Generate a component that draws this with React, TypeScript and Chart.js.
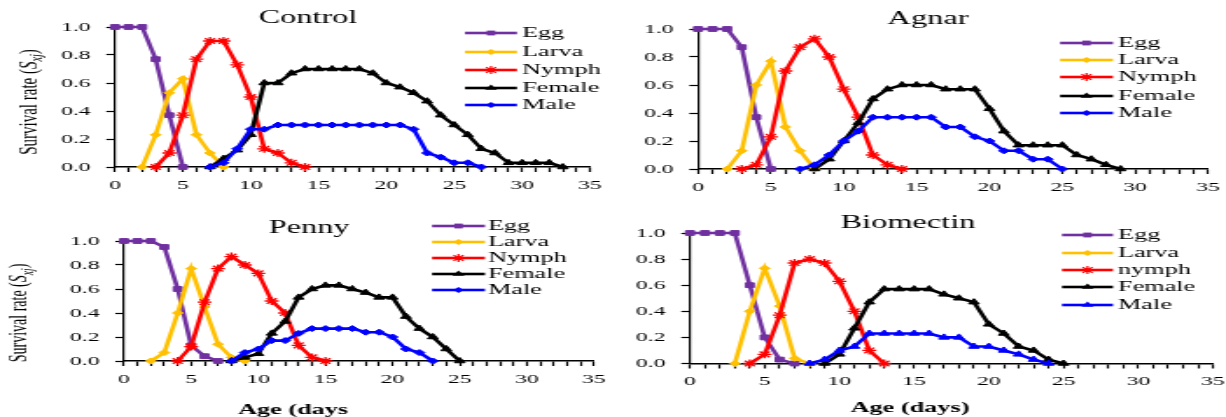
import React, { useEffect, useRef } from 'react';
import { Chart, registerables } from 'chart.js';

Chart.register(...registerables);

const FONT = "'Liberation Serif', 'Times New Roman', Times, serif";
const STRETCH = 1.75; // the original figure is stretched horizontally

// ---------- axis labels ----------
const xTickLabels = ['0', '5', '10', '15', '20', '25', '30', '35'];
const yTickLabels = ['0.0', '0.2', '0.4', '0.6', '0.8', '1.0'];
const xMin = 0;
const xMax = 35;

const seriesNames = ['Egg', 'Larva', 'Nymph', 'Female', 'Male'];
const seriesNamesBiomectin = ['Egg', 'Larva', 'nymph', 'Female', 'Male'];
const seriesColors = ['#7030A0', '#FFC000', '#FF0000', '#000000', '#0000FF'];

// ---------- Control (first day, values per day) ----------
const controlEggStart = 0;
const controlEgg = [1, 1, 1, 0.77, 0.37, 0];
const controlLarvaStart = 2;
const controlLarva = [0, 0.23, 0.53, 0.63, 0.23, 0.1, 0];
const controlNymphStart = 3;
const controlNymph = [0, 0.1, 0.37, 0.77, 0.9, 0.9, 0.73, 0.5, 0.13, 0.1, 0.03, 0];
const controlFemaleStart = 7;
const controlFemale = [0, 0.06, 0.12, 0.23, 0.6, 0.6, 0.67, 0.7, 0.7, 0.7, 0.7, 0.7, 0.67, 0.6, 0.57, 0.53, 0.47, 0.37, 0.3, 0.23, 0.13, 0.1, 0.03, 0.03, 0.03, 0.03, 0];
const controlMaleStart = 7;
const controlMale = [0, 0.03, 0.13, 0.27, 0.27, 0.3, 0.3, 0.3, 0.3, 0.3, 0.3, 0.3, 0.3, 0.3, 0.3, 0.27, 0.1, 0.07, 0.03, 0.03, 0];

// ---------- Agnar ----------
const agnarEggStart = 0;
const agnarEgg = [1, 1, 1, 0.87, 0.37, 0];
const agnarLarvaStart = 2;
const agnarLarva = [0, 0.13, 0.6, 0.77, 0.3, 0.13, 0];
const agnarNymphStart = 3;
const agnarNymph = [0, 0.03, 0.23, 0.7, 0.87, 0.93, 0.8, 0.57, 0.37, 0.1, 0.03, 0];
const agnarFemaleStart = 8;
const agnarFemale = [0, 0.07, 0.2, 0.33, 0.5, 0.57, 0.6, 0.6, 0.6, 0.57, 0.57, 0.57, 0.43, 0.27, 0.17, 0.17, 0.17, 0.17, 0.1, 0.07, 0.03, 0];
const agnarMaleStart = 7;
const agnarMale = [0, 0.03, 0.1, 0.2, 0.27, 0.37, 0.37, 0.37, 0.37, 0.37, 0.3, 0.3, 0.23, 0.2, 0.13, 0.13, 0.07, 0.07, 0];

// ---------- Penny ----------
const pennyEggStart = 0;
const pennyEgg = [1, 1, 1, 0.95, 0.6, 0.13, 0.04, 0];
const pennyLarvaStart = 2;
const pennyLarva = [0, 0.07, 0.4, 0.77, 0.45, 0.14, 0.03, 0];
const pennyNymphStart = 4;
const pennyNymph = [0, 0.12, 0.49, 0.77, 0.87, 0.8, 0.73, 0.5, 0.4, 0.13, 0.03, 0];
const pennyFemaleStart = 8;
const pennyFemale = [0, 0.03, 0.06, 0.23, 0.33, 0.53, 0.6, 0.63, 0.63, 0.6, 0.57, 0.53, 0.53, 0.37, 0.27, 0.2, 0.1, 0];
const pennyMaleStart = 8;
const pennyMale = [0, 0.07, 0.1, 0.17, 0.17, 0.23, 0.27, 0.27, 0.27, 0.27, 0.24, 0.24, 0.2, 0.1, 0.07, 0];

// ---------- Biomectin ----------
const bioEggStart = 0;
const bioEgg = [1, 1, 1, 1, 0.6, 0.2, 0.03, 0];
const bioLarvaStart = 3;
const bioLarva = [0, 0.4, 0.73, 0.44, 0.04, 0];
const bioNymphStart = 4;
const bioNymph = [0, 0.07, 0.37, 0.77, 0.8, 0.77, 0.63, 0.4, 0.1, 0];
const bioFemaleStart = 9;
const bioFemale = [0, 0.07, 0.27, 0.47, 0.57, 0.57, 0.57, 0.57, 0.53, 0.5, 0.47, 0.3, 0.23, 0.13, 0.1, 0.03, 0];
const bioMaleStart = 8;
const bioMale = [0, 0.03, 0.1, 0.13, 0.23, 0.23, 0.23, 0.23, 0.23, 0.2, 0.2, 0.13, 0.13, 0.1, 0.07, 0.03, 0];

type Series = { start: number; values: number[] };
type Panel = {
  key: string;
  left: number; top: number; cssW: number; cssH: number;
  plot: { left: number; right: number; top: number; bottom: number };
  title: string; titleX: number; titleBase: number;
  yTitle?: boolean; yTitleX?: number; yTitleY?: number; yTitleSize?: number;
  xTitle?: string; xTitleX?: number; xTitleBase?: number;
  legendX1: number; legendX2: number; legendTextX: number; legendYs: number[];
  names: string[];
  series: Series[];
  pointStyles: string[];
};

const defaultStyles = ['rect', 'rectRot', 'star', 'triangle', 'rectRot'];
const bioStyles = ['rect', 'rectRot', 'star', 'triangle', 'triangle'];
const pointRadii: Record<string, number> = { rect: 3.4, rectRot: 3, star: 4, triangle: 3.5 };

const panels: Panel[] = [
  {
    key: 'control', left: 0, top: 0, cssW: 610, cssH: 205,
    plot: { left: 115, right: 590, top: 27, bottom: 167 },
    title: 'Control', titleX: 308, titleBase: 23,
    yTitle: true, yTitleX: 28, yTitleY: 102, yTitleSize: 15,
    legendX1: 465, legendX2: 517, legendTextX: 522, legendYs: [33, 52, 70, 88, 105],
    names: seriesNames,
    series: [
      { start: controlEggStart, values: controlEgg },
      { start: controlLarvaStart, values: controlLarva },
      { start: controlNymphStart, values: controlNymph },
      { start: controlFemaleStart, values: controlFemale },
      { start: controlMaleStart, values: controlMale },
    ],
    pointStyles: defaultStyles,
  },
  {
    key: 'agnar', left: 610, top: 0, cssW: 616, cssH: 205,
    plot: { left: 698, right: 1208, top: 29, bottom: 169 },
    title: 'Agnar', titleX: 928, titleBase: 24,
    legendX1: 1060, legendX2: 1113, legendTextX: 1118, legendYs: [43, 60, 77, 96, 113],
    names: seriesNames,
    series: [
      { start: agnarEggStart, values: agnarEgg },
      { start: agnarLarvaStart, values: agnarLarva },
      { start: agnarNymphStart, values: agnarNymph },
      { start: agnarFemaleStart, values: agnarFemale },
      { start: agnarMaleStart, values: agnarMale },
    ],
    pointStyles: defaultStyles,
  },
  {
    key: 'penny', left: 0, top: 205, cssW: 610, cssH: 212,
    plot: { left: 124, right: 594, top: 241, bottom: 361 },
    title: 'Penny', titleX: 309, titleBase: 233,
    yTitle: true, yTitleX: 19, yTitleY: 313, yTitleSize: 14,
    xTitle: 'Age (days', xTitleX: 293, xTitleBase: 414,
    legendX1: 432, legendX2: 485, legendTextX: 488, legendYs: [226, 242, 258, 274, 290],
    names: seriesNames,
    series: [
      { start: pennyEggStart, values: pennyEgg },
      { start: pennyLarvaStart, values: pennyLarva },
      { start: pennyNymphStart, values: pennyNymph },
      { start: pennyFemaleStart, values: pennyFemale },
      { start: pennyMaleStart, values: pennyMale },
    ],
    pointStyles: defaultStyles,
  },
  {
    key: 'biomectin', left: 610, top: 205, cssW: 616, cssH: 212,
    plot: { left: 690, right: 1213, top: 233, bottom: 363.5 },
    title: 'Biomectin', titleX: 908, titleBase: 228,
    xTitle: 'Age (days)', xTitleX: 910, xTitleBase: 412,
    legendX1: 1062, legendX2: 1113, legendTextX: 1118, legendYs: [235, 253, 270, 287, 305],
    names: seriesNamesBiomectin,
    series: [
      { start: bioEggStart, values: bioEgg },
      { start: bioLarvaStart, values: bioLarva },
      { start: bioNymphStart, values: bioNymph },
      { start: bioFemaleStart, values: bioFemale },
      { start: bioMaleStart, values: bioMale },
    ],
    pointStyles: bioStyles,
  },
];

function drawMarker(ctx: CanvasRenderingContext2D, style: string, x: number, y: number, r: number, color: string) {
  ctx.save();
  ctx.fillStyle = color;
  ctx.strokeStyle = color;
  ctx.lineWidth = 1.2;
  ctx.beginPath();
  if (style === 'rect') {
    const s = r * Math.SQRT1_2;
    ctx.rect(x - s, y - s, 2 * s, 2 * s);
    ctx.fill();
  } else if (style === 'rectRot') {
    ctx.moveTo(x, y - r);
    ctx.lineTo(x + r, y);
    ctx.lineTo(x, y + r);
    ctx.lineTo(x - r, y);
    ctx.closePath();
    ctx.fill();
  } else if (style === 'triangle') {
    const h = r * 1.5;
    ctx.moveTo(x, y - h * 0.66);
    ctx.lineTo(x + r, y + h * 0.34);
    ctx.lineTo(x - r, y + h * 0.34);
    ctx.closePath();
    ctx.fill();
  } else if (style === 'star') {
    const d = r * Math.SQRT1_2;
    ctx.moveTo(x, y - r); ctx.lineTo(x, y + r);
    ctx.moveTo(x - r, y); ctx.lineTo(x + r, y);
    ctx.moveTo(x - d, y - d); ctx.lineTo(x + d, y + d);
    ctx.moveTo(x - d, y + d); ctx.lineTo(x + d, y - d);
    ctx.stroke();
  }
  ctx.restore();
}

function PanelChart({ p }: { p: Panel }) {
  const ref = useRef<HTMLCanvasElement>(null);
  const W = Math.round(p.cssW / STRETCH);
  const H = p.cssH;

  useEffect(() => {
    const canvas = ref.current;
    if (!canvas) return;
    const k = W / p.cssW;
    const X = (x: number) => (x - p.left) * k;
    const Y = (y: number) => y - p.top;

    const yW = X(p.plot.left);
    const padR = W - X(p.plot.right);
    const padT = Y(p.plot.top);
    const below = H - Y(p.plot.bottom);
    const xBox = 30;
    const padB = below - xBox;

    const datasets = p.series.map((s, i) => {
      const style = p.pointStyles[i];
      return {
        label: p.names[i],
        data: s.values.map((v, j) => ({ x: s.start + j, y: v })),
        borderColor: seriesColors[i],
        backgroundColor: seriesColors[i],
        pointBackgroundColor: seriesColors[i],
        pointBorderColor: seriesColors[i],
        pointStyle: style,
        pointRadius: pointRadii[style],
        pointBorderWidth: style === 'star' ? 1.3 : 1,
        borderWidth: 2.6,
        tension: 0,
        clip: false,
        order: p.series.length - i,
      };
    });

    const decor = {
      id: 'decor',
      afterDraw(chart: any) {
        const ctx: CanvasRenderingContext2D = chart.ctx;
        ctx.save();
        ctx.fillStyle = '#000';
        // panel title
        ctx.font = `18.5px ${FONT}`;
        ctx.textAlign = 'center';
        ctx.textBaseline = 'alphabetic';
        ctx.fillText(p.title, X(p.titleX), Y(p.titleBase));

        // y-axis title with subscript
        if (p.yTitle) {
          const size = p.yTitleSize || 14;
          const parts = [
            { t: 'Survival rate (', f: `${size}px ${FONT}`, dy: 0 },
            { t: 'S', f: `italic ${size}px ${FONT}`, dy: 0 },
            { t: 'xj', f: `italic ${size * 0.68}px ${FONT}`, dy: size * 0.22 },
            { t: ')', f: `${size}px ${FONT}`, dy: 0 },
          ];
          let total = 0;
          const widths = parts.map((pt) => { ctx.font = pt.f; const w = ctx.measureText(pt.t).width; total += w; return w; });
          ctx.translate(X(p.yTitleX || 0), Y(p.yTitleY || 0));
          ctx.rotate(-Math.PI / 2);
          ctx.textAlign = 'left';
          ctx.textBaseline = 'alphabetic';
          let cx = -total / 2;
          parts.forEach((pt, i) => {
            ctx.font = pt.f;
            ctx.fillText(pt.t, cx, size * 0.33 + pt.dy);
            cx += widths[i];
          });
          ctx.setTransform(1, 0, 0, 1, 0, 0);
        }

        // x-axis title
        if (p.xTitle) {
          ctx.font = `bold 15px ${FONT}`;
          ctx.textAlign = 'center';
          ctx.textBaseline = 'alphabetic';
          ctx.fillText(p.xTitle, X(p.xTitleX || 0), Y(p.xTitleBase || 0));
        }

        // legend
        p.names.forEach((name, i) => {
          const ly = Y(p.legendYs[i]);
          const x1 = X(p.legendX1);
          const x2 = X(p.legendX2);
          ctx.strokeStyle = seriesColors[i];
          ctx.lineWidth = 2.6;
          ctx.beginPath();
          ctx.moveTo(x1, ly);
          ctx.lineTo(x2, ly);
          ctx.stroke();
          const st = p.pointStyles[i];
          drawMarker(ctx, st, (x1 + x2) / 2, ly, pointRadii[st], seriesColors[i]);
          ctx.fillStyle = '#000';
          ctx.font = `15px ${FONT}`;
          ctx.textAlign = 'left';
          ctx.textBaseline = 'middle';
          ctx.fillText(name, X(p.legendTextX), ly + 0.5);
        });
        ctx.restore();
      },
    };

    const tickFont = { family: FONT, size: 13.5 };
    const chart = new Chart(canvas, {
      type: 'line',
      data: { datasets } as any,
      options: {
        responsive: false,
        maintainAspectRatio: false,
        animation: false,
        devicePixelRatio: 1,
        events: [],
        layout: { padding: { left: 0, right: padR, top: padT, bottom: padB } },
        plugins: {
          legend: { display: false },
          tooltip: { enabled: false },
          title: { display: false },
        },
        scales: {
          x: {
            type: 'linear',
            min: xMin,
            max: xMax,
            afterFit: (s: any) => { s.height = xBox; s.paddingLeft = 0; s.paddingRight = 0; },
            ticks: {
              stepSize: 1,
              autoSkip: false,
              maxRotation: 0,
              minRotation: 0,
              padding: 5,
              color: '#000',
              font: tickFont,
              callback: (v: any) => (xTickLabels.includes(String(v)) ? String(v) : ''),
            },
            grid: { display: true, drawOnChartArea: false, drawTicks: true, tickLength: 5, tickColor: '#000', tickWidth: 1.2, color: '#000' },
            border: { display: true, color: '#000', width: 1.5 },
          },
          y: {
            type: 'linear',
            min: 0,
            max: 1,
            afterFit: (s: any) => { s.width = yW; s.paddingTop = 0; s.paddingBottom = 0; },
            ticks: {
              stepSize: 0.2,
              padding: 9,
              color: '#000',
              font: tickFont,
              callback: (v: any, i: number) => yTickLabels[i] ?? Number(v).toFixed(1),
            },
            grid: { display: true, drawOnChartArea: false, drawTicks: true, tickLength: 5, tickColor: '#000', tickWidth: 1.2, color: '#000' },
            border: { display: true, color: '#000', width: 1.2 },
          },
        },
      } as any,
      plugins: [decor],
    });
    return () => chart.destroy();
  }, []);

  return (
    <canvas
      ref={ref}
      width={W}
      height={H}
      style={{ position: 'absolute', left: p.left, top: p.top, width: `${p.cssW}px`, height: `${p.cssH}px` }}
    />
  );
}

export default function App() {
  return (
    <div style={{ position: 'absolute', left: 0, top: 0, width: 1226, height: 417, background: '#fff', overflow: 'hidden' }}>
      {panels.map((p) => (
        <PanelChart key={p.key} p={p} />
      ))}
    </div>
  );
}
